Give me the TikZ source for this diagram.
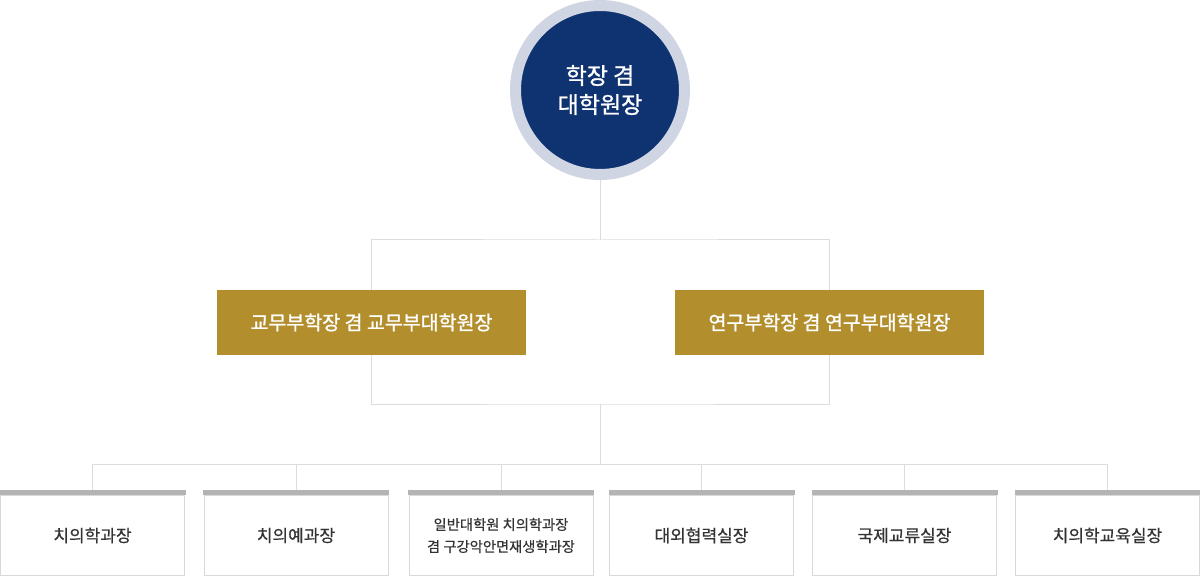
\documentclass[tikz,border=0pt]{standalone}
\usepackage{fontspec}
\setmainfont{Noto Sans CJK KR}
\newfontfamily\medfont[FakeBold=1.2]{Noto Sans CJK KR}
\newfontfamily\lightmed[FakeBold=0.5]{Noto Sans CJK KR}
\definecolor{navy}{HTML}{0F3270}
\definecolor{ring}{HTML}{CFD5E2}
\definecolor{gold}{HTML}{B28E2D}
\definecolor{linec}{HTML}{DCDCDC}
\definecolor{boxline}{HTML}{D9D9D9}
\definecolor{barc}{HTML}{B4B4B4}
\definecolor{txt}{HTML}{333333}
\begin{document}
\begin{tikzpicture}[x=1pt,y=-1pt,
  conn/.style={draw=linec,line width=1pt},
  headnode/.style={circle,fill=navy,draw=ring,line width=11pt,minimum size=169pt,inner sep=0pt,text=white,align=center,font=\medfont\fontsize{23}{29}\selectfont},
  goldbox/.style={rectangle,fill=gold,minimum width=309pt,minimum height=65pt,inner sep=0pt,text=white,font=\medfont\fontsize{19.5}{22}\selectfont},
  unitbox/.style={rectangle,fill=white,draw=boxline,line width=1pt,minimum width=184pt,minimum height=80pt,inner sep=0pt,text=txt,align=center,font=\lightmed\fontsize{17}{20}\selectfont},
  barstyle/.style={fill=barc,draw=none}]
\useasboundingbox (0,0) rectangle (1200,577);
\fill[white] (0,0) rectangle (1200,577);
% coordinates for connector junctions
\coordinate (ft) at (600,240);
\coordinate (fb) at (600,404);
\coordinate (hub) at (600,464);
% head
\node[headnode] (head) at (600,90) {학장 겸\\대학원장};
% frame connectors
\draw[conn] (371.5,290) |- (ft) -| (829.5,290);
\draw[conn] (371.5,355) |- (fb) -| (829.5,355);
\draw[conn] (head.south) -- (ft);
\draw[conn] (fb) -- (hub);
% gold boxes
\node[goldbox] (L) at (371.5,322.5) {교무부학장 겸 교무부대학원장};
\node[goldbox] (R) at (829.5,322.5) {연구부학장 겸 연구부대학원장};
% bottom boxes
\node[unitbox] (b1) at (92.5,535.5) {치의학과장};
\node[unitbox] (b2) at (296,535.5) {치의예과장};
\node[unitbox,font=\lightmed\fontsize{14.3}{22}\selectfont] (b3) at (501,535.5) {일반대학원 치의학과장\\겸 구강악안면재생학과장};
\node[unitbox] (b4) at (701.5,535.5) {대외협력실장};
\node[unitbox] (b5) at (904.5,535.5) {국제교류실장};
\node[unitbox] (b6) at (1107.5,535.5) {치의학교육실장};
\foreach \b in {b1,b2,b3,b4,b5,b6}{
  \draw[conn] (\b.north) |- (hub);
  \fill[barstyle] ([xshift=-0.5pt,yshift=0.5pt]\b.north west) rectangle ([xshift=0.5pt,yshift=5pt]\b.north east);
}
\end{tikzpicture}
\end{document}
